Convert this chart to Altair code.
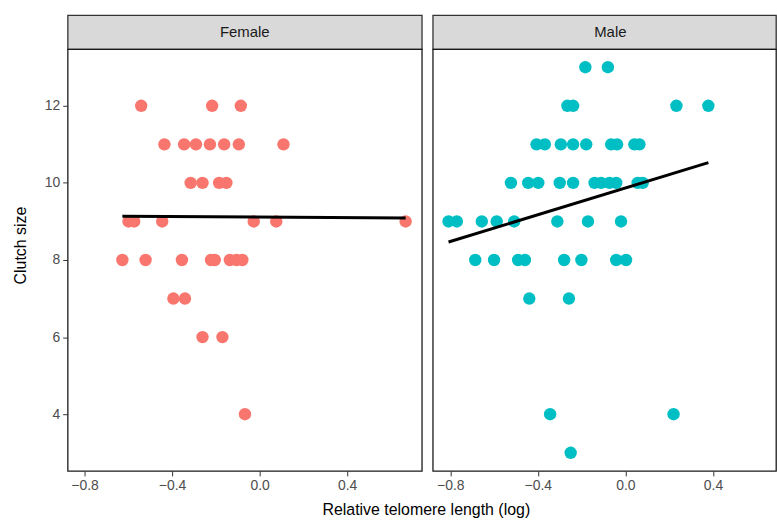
import altair as alt
import pandas as pd

# ---- data ----
female_x = [-0.541, -0.217, -0.086,
            -0.435, -0.345, -0.291, -0.227, -0.162, -0.095, 0.109,
            -0.315, -0.261, -0.185, -0.152,
            -0.599, -0.573, -0.445, -0.027, 0.076, 0.667,
            -0.627, -0.521, -0.355, -0.222, -0.205, -0.136, -0.106, -0.079,
            -0.394, -0.341,
            -0.261, -0.170,
            -0.067]
female_y = [12, 12, 12,
            11, 11, 11, 11, 11, 11, 11,
            10, 10, 10, 10,
            9, 9, 9, 9, 9, 9,
            8, 8, 8, 8, 8, 8, 8, 8,
            7, 7,
            6, 6,
            4]

male_x = [-0.183, -0.080,
          -0.265, -0.239, 0.233, 0.379,
          -0.406, -0.368, -0.295, -0.239, -0.179, -0.065, -0.038, 0.041, 0.064,
          -0.523, -0.444, -0.398, -0.300, -0.239, -0.141, -0.111, -0.073, -0.042, 0.056, 0.079,
          -0.808, -0.770, -0.656, -0.588, -0.508, -0.311, -0.171, -0.020,
          -0.686, -0.600, -0.490, -0.459, -0.280, -0.201, -0.042, 0.003,
          -0.439, -0.258,
          -0.344, 0.220,
          -0.250]
male_y = [13, 13,
          12, 12, 12, 12,
          11, 11, 11, 11, 11, 11, 11, 11, 11,
          10, 10, 10, 10, 10, 10, 10, 10, 10, 10, 10,
          9, 9, 9, 9, 9, 9, 9, 9,
          8, 8, 8, 8, 8, 8, 8, 8,
          7, 7,
          4, 4,
          3]

panels = ["Female", "Male"]
colors = ["#F8766D", "#00BFC4"]
x_ticks = [-0.8, -0.4, 0.0, 0.4]
y_ticks = [4, 6, 8, 10, 12]
x_domain_f = [-0.877, 0.741]
x_domain_m = [-0.880, 0.688]
y_domain = [2.53, 13.47]

FONT = "Liberation Sans"
PANEL_H = 424
W_F = 356
W_M = 345
STRIP_H = 34
BORDER = "#1A1A1A"


def panel(x, y, color, xdom, width, first):
    df = pd.DataFrame({"x": x, "y": y})
    xaxis = alt.Axis(values=x_ticks, format=".1f", grid=False, domain=False,
                     tickColor="#333333", tickSize=5, labelPadding=3,
                     labelFontSize=14, labelColor="#4D4D4D", labelFont=FONT)
    if first:
        yaxis = alt.Axis(values=y_ticks, grid=False, domain=False,
                         tickColor="#333333", tickSize=5, labelPadding=3,
                         labelFontSize=14, labelColor="#4D4D4D", labelFont=FONT,
                         title="Clutch size", titleFont=FONT, titleFontSize=16,
                         titleFontWeight="normal", titleColor="#000000",
                         titleAngle=270, titleX=-42, titleY=197,
                         titleAlign="center", titleBaseline="alphabetic")
    else:
        yaxis = None
    xenc = alt.X("x:Q", scale=alt.Scale(domain=xdom, nice=False, zero=False),
                 axis=xaxis, title=None)
    yenc = alt.Y("y:Q", scale=alt.Scale(domain=y_domain, nice=False, zero=False),
                 axis=yaxis, title="Clutch size" if first else None)
    base = alt.Chart(df)
    pts = base.mark_circle(size=155, opacity=1, color=color).encode(x=xenc, y=yenc)
    line = base.transform_regression("x", "y").mark_line(
        color="black", strokeWidth=3).encode(x=xenc, y=yenc)
    return alt.layer(pts, line).properties(
        width=width, height=PANEL_H,
        view=alt.ViewBackground(fill="white", stroke=BORDER, strokeWidth=1.3))


def strip(label, width, center):
    df = pd.DataFrame({"label": [label]})
    return alt.Chart(df).mark_text(
        font=FONT, fontSize=15, color="#1A1A1A", baseline="middle", align="center"
    ).encode(
        text="label:N", x=alt.value(center), y=alt.value(STRIP_H / 2)
    ).properties(width=width, height=STRIP_H,
                 view=alt.ViewBackground(fill="#D9D9D9", stroke="#333333", strokeWidth=1.3))


col_f = alt.vconcat(strip(panels[0], W_F, 178), panel(female_x, female_y, colors[0], x_domain_f, W_F, True),
                    spacing=0, bounds="flush")
col_m = alt.vconcat(strip(panels[1], W_M, 178.5), panel(male_x, male_y, colors[1], x_domain_m, W_M, False),
                    spacing=0, bounds="flush")

chart = alt.hconcat(col_f, col_m, spacing=9).properties(
    padding={"left": 12, "top": 13, "right": 0, "bottom": 0},
    title=alt.TitleParams("Relative telomere length (log)", orient="bottom", anchor="middle",
                          font=FONT, fontSize=16, fontWeight="normal", color="#000000",
                          offset=9, dx=32)
).configure_view(
    fill="white", stroke=BORDER, strokeWidth=1.3
).configure(background="white")

chart.save("out.html", embed_options={"renderer": "svg", "actions": False})
